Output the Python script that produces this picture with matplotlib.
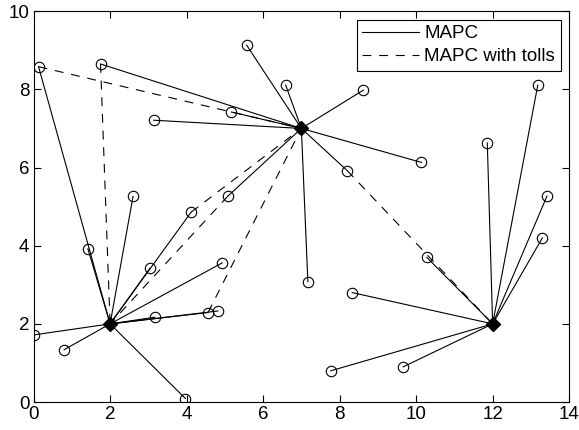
import matplotlib
matplotlib.use("Agg")
import matplotlib.pyplot as plt

plt.rcParams['font.family'] = ['Liberation Sans', 'DejaVu Sans']

# Hubs
hub_x = [2, 7, 12]
hub_y = [2, 7, 2]

# Customer nodes and their assigned hub (MAPC)
node_x = [0.13, 1.42, 2.60, 3.04, 4.12, 4.93, 3.17, 4.56, 4.82, 0.02, 0.80, 3.97,
          1.75, 3.14, 5.17, 5.57, 6.59, 8.62, 10.14, 8.20, 7.17, 5.08,
          11.86, 13.18, 13.42, 13.30, 10.28, 8.33, 7.77, 9.66]
node_y = [8.58, 3.92, 5.26, 3.42, 4.86, 3.56, 2.17, 2.29, 2.33, 1.72, 1.34, 0.09,
          8.65, 7.21, 7.42, 9.13, 8.11, 7.98, 6.13, 5.92, 3.08, 5.27,
          6.63, 8.11, 5.27, 4.20, 3.70, 2.80, 0.80, 0.90]
node_hub = [0, 0, 0, 0, 0, 0, 0, 0, 0, 0, 0, 0,
            1, 1, 1, 1, 1, 1, 1, 1, 1, 1,
            2, 2, 2, 2, 2, 2, 2, 2]

# MAPC with tolls: differing assignments (node index -> hub index)
toll_node = [0, 12, 21, 4, 7, 19]
toll_hub = [1, 0, 0, 1, 1, 2]

fig = plt.figure(figsize=(5.79, 4.30), dpi=100)
ax = fig.add_axes([0.058, 0.065, 0.925, 0.909])

first = True
for x, y, h in zip(node_x, node_y, node_hub):
    ax.plot([x, hub_x[h]], [y, hub_y[h]], color='black', lw=0.8,
            label='MAPC' if first else None)
    first = False

first = True
for n, h in zip(toll_node, toll_hub):
    ax.plot([node_x[n], hub_x[h]], [node_y[n], hub_y[h]], color='black', lw=0.8,
            dashes=(8, 7), label='MAPC with tolls' if first else None)
    first = False

ax.plot(node_x, node_y, 'o', mfc='none', mec='black', ms=7.5, mew=0.8)
ax.plot(hub_x, hub_y, 'D', color='black', ms=7.5)

ax.set_xlim(0, 14)
ax.set_ylim(0, 10)
ax.set_xticks(range(0, 15, 2))
ax.set_yticks(range(0, 11, 2))
ax.tick_params(direction='in', top=True, right=True, length=5, labelsize=13.5,
               width=0.8, pad=3)
for s in ax.spines.values():
    s.set_linewidth(0.8)

leg = ax.legend(loc='upper right', fontsize=13.5, frameon=True, fancybox=False,
                edgecolor='black', framealpha=1, handlelength=3.0,
                borderpad=0.3, labelspacing=0.3, handletextpad=0.3,
                borderaxespad=0.45)
leg.get_frame().set_linewidth(0.8)

fig.savefig('out.png', dpi=100)
